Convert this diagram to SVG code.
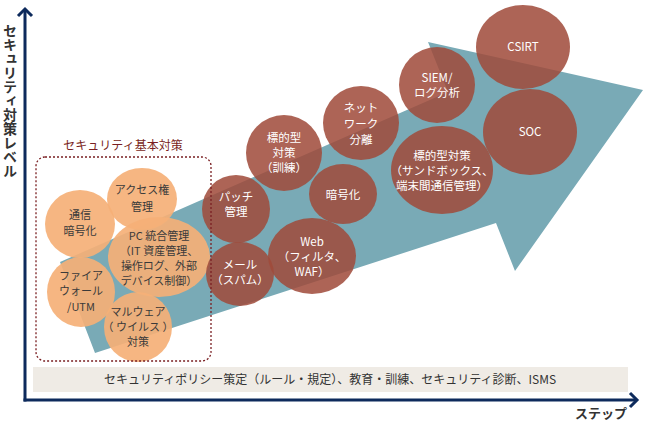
<svg xmlns="http://www.w3.org/2000/svg" width="650" height="423" viewBox="0 0 650 423">
<style>
text{font-family:"Noto Sans CJK JP","Noto Sans",sans-serif;}
.o{fill:#f5b077;opacity:0.92;}
.r{fill:#a04a3a;opacity:0.86;}
.ot{font-size:11px;fill:#3a3a3a;text-anchor:middle;}
.rt{font-size:11.5px;fill:#ffffff;text-anchor:middle;}
.ax{stroke:#0d2a5c;stroke-width:3;fill:none;}
</style>
<rect width="650" height="423" fill="#ffffff"/>
<g id="big-arrow">
<polygon points="60,262 95,353 496,223 515,271 643,90 428,42 448,92" fill="#79aab6"/>
</g>
<g id="policy-band">
<rect x="33" y="367" width="595" height="25" fill="#efebe5"/>
<text x="330" y="384" font-size="12" fill="#333" text-anchor="middle">セキュリティポリシー策定（ルール・規定）、教育・訓練、セキュリティ診断、ISMS</text>
</g>
<g id="axes">
<line class="ax" x1="25" y1="9" x2="25" y2="401.5"/>
<polyline class="ax" points="18,16 25,9 32,16"/>
<line class="ax" x1="23.5" y1="400" x2="637" y2="400"/>
<polyline class="ax" points="630,393 637,400 630,407"/>
<text x="10" y="24" font-size="14" font-weight="bold" fill="#333" style="writing-mode:vertical-rl" text-anchor="start">セキュリティ対策レベル</text>
<text x="627" y="418" font-size="13" font-weight="bold" fill="#333" text-anchor="end">ステップ</text>
</g>
<g id="n-tsushin"><ellipse class="o" cx="80" cy="224" rx="35" ry="34"/><text class="ot" x="80" y="219">通信</text><text class="ot" x="80" y="235">暗号化</text></g>
<g id="n-access"><ellipse class="o" cx="142" cy="199" rx="35" ry="31"/><text class="ot" x="142" y="194">アクセス権</text><text class="ot" x="142" y="211">管理</text></g>
<g id="n-firewall"><ellipse class="o" cx="81" cy="292" rx="34" ry="35"/><text class="ot" x="81" y="280">ファイア</text><text class="ot" x="81" y="295">ウォール</text><text class="ot" x="81" y="311">/UTM</text></g>
<g id="n-pc"><ellipse class="o" cx="159" cy="257" rx="51" ry="40"/><text class="ot" x="159" y="240">PC 統合管理</text><text class="ot" x="159" y="255">（IT 資産管理、</text><text class="ot" x="159" y="270">操作ログ、外部</text><text class="ot" x="159" y="285">デバイス制御）</text></g>
<g id="n-malware"><ellipse class="o" cx="138" cy="327" rx="34" ry="35"/><text class="ot" x="138" y="316">マルウェア</text><text class="ot" x="138" y="331">（ ウイルス ）</text><text class="ot" x="138" y="346">対策</text></g>
<g id="n-patch"><ellipse class="r" cx="236" cy="209" rx="34" ry="34"/><text class="rt" x="236" y="201">パッチ</text><text class="rt" x="236" y="216">管理</text></g>
<g id="n-mail"><ellipse class="r" cx="240" cy="274" rx="34" ry="32"/><text class="rt" x="240" y="269">メール</text><text class="rt" x="240" y="284">（スパム）</text></g>
<g id="n-kunren"><ellipse class="r" cx="284" cy="153" rx="38" ry="38"/><text class="rt" x="284" y="142">標的型</text><text class="rt" x="284" y="157">対策</text><text class="rt" x="284" y="172">（訓練）</text></g>
<g id="n-angouka"><ellipse class="r" cx="343" cy="194" rx="34" ry="30"/><text class="rt" x="343" y="199">暗号化</text></g>
<g id="n-web"><ellipse class="r" cx="312" cy="256" rx="44" ry="38"/><text class="rt" x="312" y="246">Web</text><text class="rt" x="312" y="261">（フィルタ、</text><text class="rt" x="312" y="276">WAF）</text></g>
<g id="n-network"><ellipse class="r" cx="361" cy="123" rx="38" ry="37"/><text class="rt" x="361" y="112">ネット</text><text class="rt" x="361" y="128">ワーク</text><text class="rt" x="361" y="144">分離</text></g>
<g id="n-siem"><ellipse class="r" cx="437" cy="85" rx="38" ry="38"/><text class="rt" x="437" y="82">SIEM/</text><text class="rt" x="437" y="97">ログ分析</text></g>
<g id="n-sandbox"><ellipse class="r" cx="442" cy="170" rx="51" ry="44"/><text class="rt" x="442" y="160">標的型対策</text><text class="rt" x="442" y="175">（サンドボックス、</text><text class="rt" x="442" y="190">端末間通信管理）</text></g>
<g id="n-csirt"><ellipse class="r" cx="523" cy="47" rx="47" ry="42"/><text class="rt" x="523" y="51">CSIRT</text></g>
<g id="n-soc"><ellipse class="r" cx="530" cy="132" rx="47" ry="43"/><text class="rt" x="530" y="136">SOC</text></g>
<g id="basic-group">
<rect x="36" y="157" width="175" height="204" rx="9" fill="none" stroke="#7a1f22" stroke-width="1.3" stroke-dasharray="2,2"/>
<text x="123" y="150" font-size="12" fill="#7a1f22" text-anchor="middle">セキュリティ基本対策</text>
</g>
</svg>
